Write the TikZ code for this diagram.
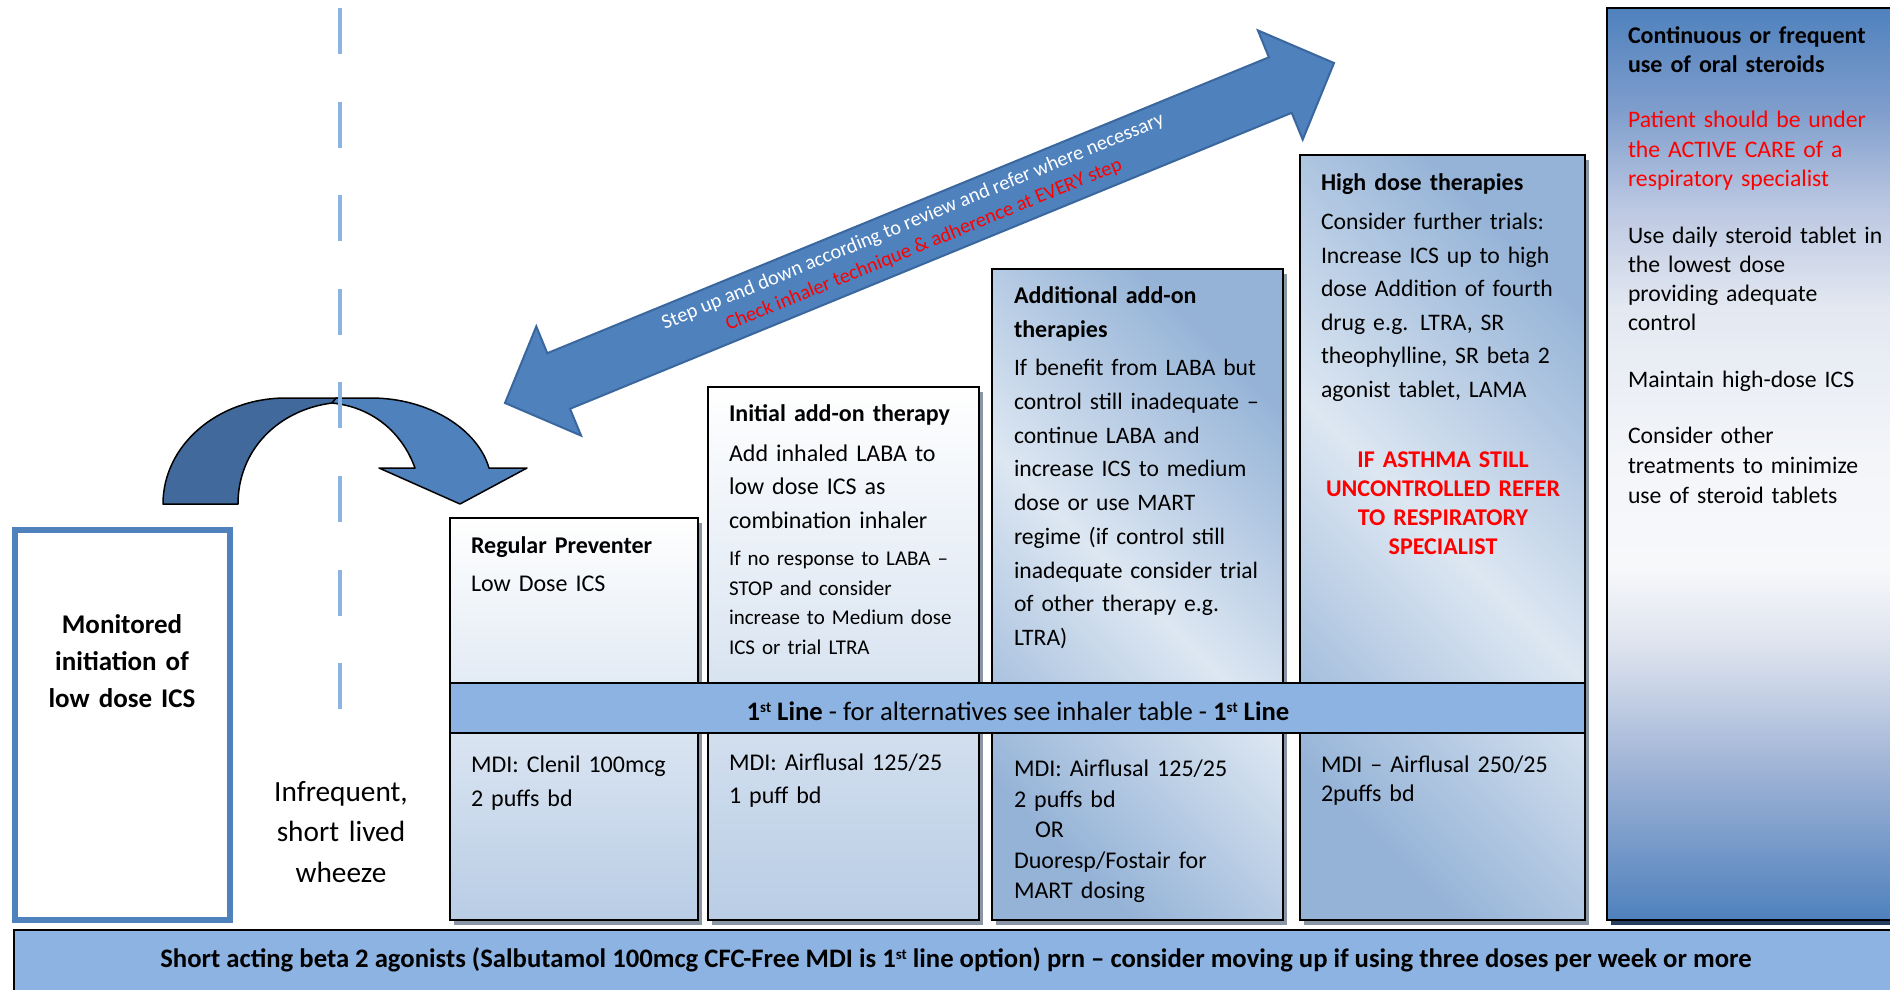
\documentclass[tikz,border=0pt]{standalone}
\usepackage{fontspec}
\setmainfont{Carlito}
\definecolor{accblue}{HTML}{4F81BD}
\definecolor{accdark}{HTML}{41699C}
\definecolor{barblue}{HTML}{8DB3E2}
\definecolor{lightbox}{HTML}{B9CDE5}
\definecolor{diagdark}{HTML}{95B3D7}
\definecolor{diaglight}{HTML}{DDE7F2}
\definecolor{shadowgray}{HTML}{8A96A6}
\definecolor{navyshadow}{HTML}{243F60}
\definecolor{arrowline}{HTML}{3A679E}
\definecolor{redtext}{HTML}{FF0000}
\definecolor{csA}{HTML}{A0B4D6}
\definecolor{csB}{HTML}{DDE3EE}
\definecolor{csC}{HTML}{F7F8FA}
\definecolor{csD}{HTML}{F3F5F9}
\definecolor{csE}{HTML}{E3E8F1}
\definecolor{csF}{HTML}{BCC8E2}
\definecolor{csG}{HTML}{7E9DCC}
\pgfdeclareverticalshading{contshade}{100bp}{color(0bp)=(accblue); color(25bp)=(accblue); color(33.4bp)=(csA); color(40bp)=(csB); color(44.4bp)=(csC); color(50.4bp)=(csD); color(58.6bp)=(csE); color(64bp)=(csF); color(69.5bp)=(csG); color(75bp)=(accblue); color(100bp)=(accblue)}
\newcommand{\mysup}[1]{\raisebox{8pt}{\fontsize{15}{15}\selectfont #1}}
\tikzset{
  stepbox/.style={draw=black, line width=2.5pt},
  boxshadow/.style={fill=shadowgray, draw=none},
  bodytext/.style={anchor=base west, inner sep=0pt, outer sep=0pt, align=left, text width=330pt},
  centertext/.style={anchor=base, inner sep=0pt, outer sep=0pt, align=center, text width=330pt},
}
\begin{document}
\begin{tikzpicture}[x=1pt,y=-1pt]
\useasboundingbox (0,0) rectangle (1890,989);
\fill[white] (0,0) rectangle (1890,989);

% shadows
\path[boxshadow] (454,523) rectangle (702,925);
\path[boxshadow] (712,392) rectangle (983,925);
\path[boxshadow] (996,274) rectangle (1287,925);
\path[boxshadow] (1304,160) rectangle (1589,925);
\path[fill=navyshadow] (1611,13) rectangle (1900,925);

% step boxes
\path[stepbox, top color=white, bottom color=lightbox] (450,518) rectangle (698,920);
\path[stepbox, top color=white, bottom color=lightbox] (708,387) rectangle (979,920);
\path[stepbox, top color=diagdark, bottom color=diagdark, middle color=diaglight, shading angle=-45] (992,269) rectangle (1283,920);
\path[stepbox, top color=diagdark, bottom color=diagdark, middle color=diaglight, shading angle=-45] (1300,155) rectangle (1585,920);
\path[stepbox, shading=contshade] (1607,8) rectangle (1900,920);

% first line bar
\path[draw=black, line width=2.5pt, fill=barblue] (450,683) rectangle (1585,733);

% bottom bar
\path[draw=black, line width=2pt, fill=barblue] (14,930) rectangle (1900,1000);

% monitored box
\path[draw=accblue, line width=6pt, fill=white] (14.5,530) rectangle (230,920);

% U-turn arrow
\path[fill=accdark, draw=black, line width=1.5pt, line join=round]
  (163,504) .. controls (163,445) and (218,398) .. (286,398) -- (340,398) -- (332,403)
  .. controls (278,410) and (238,450) .. (238,504) -- cycle;
\path[fill=accblue, draw=black, line width=1.5pt, line join=round]
  (336,398) -- (371,398) .. controls (430,398) and (478,430) .. (489,468)
  -- (527,468) -- (460,504) -- (379,468) -- (415,468)
  .. controls (402,432) and (372,407) .. (332,403) -- cycle;

% dashed line
\draw[barblue, line width=4.6pt, dash pattern=on 46pt off 47.6pt] (340,8) -- (340,711);

% big double arrow
\path[fill=accblue, draw=arrowline, line width=2pt, line join=miter]
  (505,403) -- (536.3,326.4) -- (547.3,353.2) -- (1268.9,57.3) -- (1257.9,30.4)
  -- (1334,63) -- (1302.7,139.6) -- (1291.7,112.8) -- (570.0,408.8) -- (581.1,435.6) -- cycle;
\node[anchor=base, inner sep=0pt, rotate=22.3, text=white, font=\fontsize{20.4}{24}\selectfont] (arrowwhite) at (915,227) {Step up and down according to review and refer where necessary};
\node[anchor=base, inner sep=0pt, rotate=22.3, text=redtext, font=\fontsize{20.3}{24}\selectfont] (arrowred) at (926,250) {Check inhaler technique \& adherence at EVERY step};

% Monitored text
\node[centertext, text width=210pt, font=\bfseries\fontsize{27}{37}\selectfont] (montext) at (122,633) {Monitored\\initiation of\\low dose ICS};
% Infrequent
\node[centertext, text width=200pt, font=\fontsize{29.3}{40.5}\selectfont] (infreq) at (341,801) {Infrequent,\\short lived\\wheeze};

% Regular preventer
\node[bodytext, font=\bfseries\fontsize{24}{34}\selectfont] (regtitle) at (471,553) {Regular Preventer};
\node[bodytext, font=\fontsize{24}{34}\selectfont] (regbody) at (471,591) {Low Dose ICS};
\node[bodytext, font=\fontsize{24}{34}\selectfont] (reglow) at (471,772) {MDI: Clenil 100mcg\\2 puffs bd};

% Initial add-on
\node[bodytext, font=\bfseries\fontsize{24}{34}\selectfont] (inititle) at (729,421.5) {Initial add-on therapy};
\node[bodytext, font=\fontsize{24}{33.5}\selectfont] (inibody) at (729,461) {Add inhaled LABA to\\low dose ICS as\\combination inhaler};
\node[bodytext, font=\fontsize{21}{29.7}\selectfont] (inismall) at (729,565.5) {If no response to LABA –\\STOP and consider\\increase to Medium dose\\ICS or trial LTRA};
\node[bodytext, font=\fontsize{24}{33}\selectfont] (inilow) at (729,770.5) {MDI: Airflusal 125/25\\1 puff bd};

% Additional add-on
\node[bodytext, font=\bfseries\fontsize{24}{34}\selectfont] (addtitle) at (1014,303) {Additional add-on\\therapies};
\node[bodytext, font=\fontsize{23.6}{33.75}\selectfont] (addbody) at (1014,375.5) {If benefit from LABA but\\control still inadequate –\\continue LABA and\\increase ICS to medium\\dose or use MART\\regime (if control still\\inadequate consider trial\\of other therapy e.g.\\LTRA)};
\node[bodytext, font=\fontsize{24}{30.5}\selectfont] (addlow) at (1014,776.5) {MDI: Airflusal 125/25\\2 puffs bd\\\hspace*{21pt}OR\\Duoresp/Fostair for\\MART dosing};

% High dose
\node[bodytext, font=\bfseries\fontsize{24}{34}\selectfont] (hightitle) at (1321,190.5) {High dose therapies};
\node[bodytext, font=\fontsize{23.7}{33.6}\selectfont] (highbody) at (1321,229.5) {Consider further trials:\\Increase ICS up to high\\dose Addition of fourth\\drug e.g. LTRA, SR\\theophylline, SR beta 2\\agonist tablet, LAMA};
\node[centertext, text=redtext, font=\bfseries\fontsize{24}{29}\selectfont] (highred) at (1443,467.5) {IF ASTHMA STILL\\UNCONTROLLED REFER\\TO RESPIRATORY\\SPECIALIST};
\node[bodytext, font=\fontsize{24}{29.5}\selectfont] (highlow) at (1321,772) {MDI – Airflusal 250/25\\2puffs bd};

% Continuous
\node[bodytext, font=\bfseries\fontsize{24}{28.5}\selectfont] (conttitle) at (1628,43.5) {Continuous or frequent\\use of oral steroids};
\node[bodytext, text=redtext, font=\fontsize{23.7}{29.5}\selectfont] (contred) at (1628,127.5) {Patient should be under\\the ACTIVE CARE of a\\respiratory specialist};
\node[bodytext, font=\fontsize{23.7}{29}\selectfont] (contbody) at (1628,243.5) {Use daily steroid tablet in\\the lowest dose\\providing adequate\\control};
\node[bodytext, font=\fontsize{23.7}{29}\selectfont] (contmaint) at (1628,387.5) {Maintain high-dose ICS};
\node[bodytext, font=\fontsize{23.7}{30}\selectfont] (contcons) at (1628,443.5) {Consider other\\treatments to minimize\\use of steroid tablets};

% bar texts
\node[anchor=base, inner sep=0pt, font=\fontsize{26.7}{30}\selectfont] (firstline) at (1018,720) {\textbf{1\mysup{st} Line} - for alternatives see inhaler table - \textbf{1\mysup{st} Line}};
\node[anchor=base, inner sep=0pt, font=\bfseries\fontsize{26.7}{30}\selectfont] (sabatext) at (956,967) {Short acting beta 2 agonists (Salbutamol 100mcg CFC-Free MDI is 1\mysup{st} line option) prn – consider moving up if using three doses per week or more};
\end{tikzpicture}
\end{document}
